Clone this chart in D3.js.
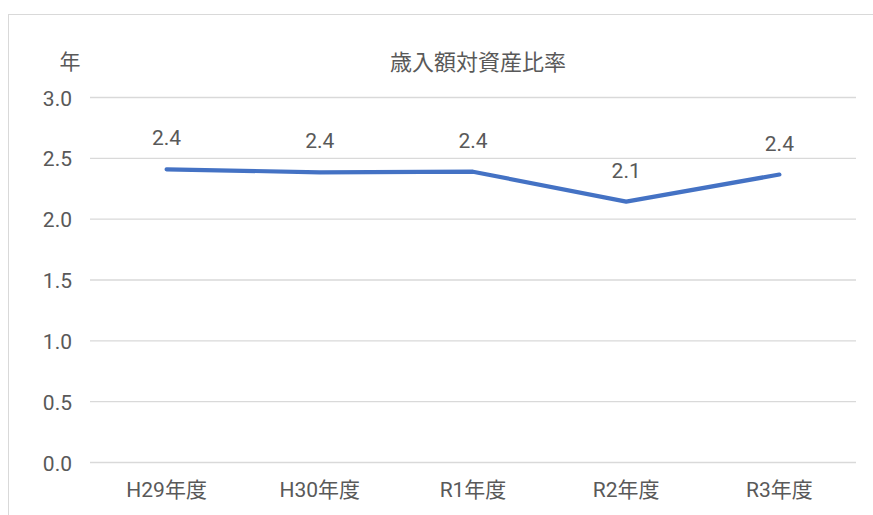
<!DOCTYPE html>
<html>
<head>
<meta charset="utf-8">
<script src="https://cdn.jsdelivr.net/npm/d3@7"></script>
<style>
  html, body { margin: 0; padding: 0; background: #fff; }
  svg { display: block; }
  text { font-family: Roboto, "Noto Sans CJK JP", sans-serif; fill: #595959; }
</style>
</head>
<body>
<script>
// 歳入額対資産比率（年）
const categories = ["H29年度", "H30年度", "R1年度", "R2年度", "R3年度"];
const ratios = [2.41, 2.385, 2.39, 2.144, 2.367];
const yTicks = [0, 0.5, 1.0, 1.5, 2.0, 2.5, 3.0];
const title = "歳入額対資産比率";
const unit = "年";

const W = 873, H = 515;
const FONT = 'Roboto, "Noto Sans CJK JP", sans-serif';
const svg = d3.select("body").append("svg").attr("width", W).attr("height", H);

// chart frame
svg.append("rect")
  .attr("x", 8.5).attr("y", 14.5)
  .attr("width", 880).attr("height", 520)
  .attr("fill", "#fff").attr("stroke", "#d9d9d9").attr("stroke-width", 1);

const plot = { left: 90, right: 856, top: 97.5, bottom: 462.5 };

const x = d3.scaleBand().domain(categories).range([plot.left, plot.right]);
const y = d3.scaleLinear().domain([0, 3]).range([plot.bottom, plot.top]);

// horizontal gridlines
svg.append("g")
  .selectAll("line")
  .data(yTicks)
  .join("line")
  .attr("x1", plot.left).attr("x2", plot.right)
  .attr("y1", d => y(d)).attr("y2", d => y(d))
  .attr("stroke", "#d9d9d9").attr("stroke-width", 1.3);

// y axis labels
const yAxis = svg.append("g")
  .attr("transform", `translate(72,0)`)
  .call(d3.axisLeft(y).tickValues(yTicks).tickFormat(d3.format(".1f")).tickSize(0).tickPadding(0));
yAxis.select(".domain").remove();
yAxis.selectAll("text")
  .style("font-size", "21px")
  .attr("fill", "#595959")
  .attr("font-family", FONT)
  .attr("dy", "0.36em");

// x axis labels
const xAxis = svg.append("g")
  .attr("transform", `translate(0,497)`)
  .call(d3.axisBottom(x).tickSize(0).tickPadding(0));
xAxis.select(".domain").remove();
xAxis.selectAll("text")
  .style("font-size", "21px")
  .attr("fill", "#595959")
  .attr("dy", "0")
  .attr("font-family", FONT);

// title and unit
svg.append("text")
  .attr("x", 478).attr("y", 70)
  .attr("text-anchor", "middle")
  .style("font-size", "22px")
  .text(title);
svg.append("text")
  .attr("x", 70).attr("y", 69)
  .attr("text-anchor", "middle")
  .style("font-size", "21px")
  .text(unit);

// series line
const cx = d => x(d) + x.bandwidth() / 2;
const line = d3.line()
  .x((d, i) => cx(categories[i]))
  .y(d => y(d));
svg.append("path")
  .datum(ratios)
  .attr("d", line)
  .attr("fill", "none")
  .attr("stroke", "#4472c4")
  .attr("stroke-width", 4.2)
  .attr("stroke-linejoin", "round")
  .attr("stroke-linecap", "round");

// data labels
svg.append("g")
  .selectAll("text")
  .data(ratios)
  .join("text")
  .attr("x", (d, i) => cx(categories[i]))
  .attr("y", d => y(d) - 24)
  .attr("text-anchor", "middle")
  .style("font-size", "21px")
  .attr("fill", "#404040")
  .text(d => d3.format(".1f")(d));
</script>
</body>
</html>
